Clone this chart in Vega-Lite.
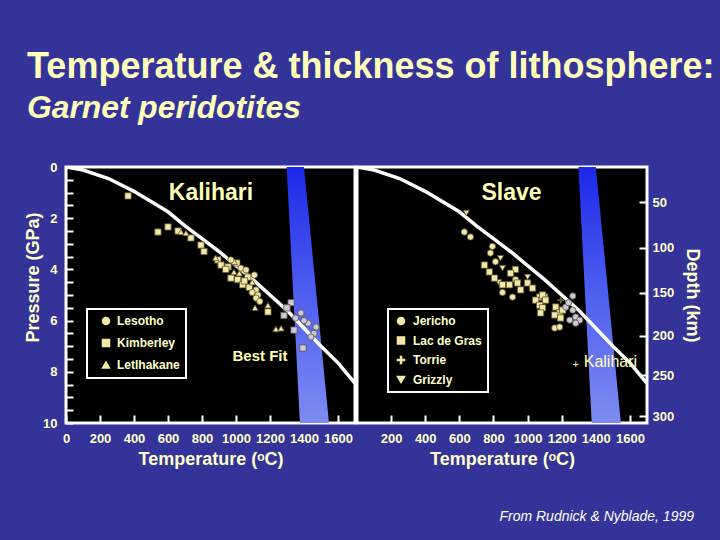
{
  "$schema": "https://vega.github.io/schema/vega-lite/v6.json",
  "background": "#333399",
  "padding": {"left": 23, "top": 48, "right": 20, "bottom": 15},
  "title": {
    "text": "Temperature & thickness of lithosphere:",
    "subtitle": "Garnet peridotites",
    "anchor": "start",
    "frame": "bounds",
    "dx": 4,
    "limit": 0,
    "font": "Liberation Sans",
    "fontSize": 36,
    "fontWeight": "bold",
    "color": "#ffffbb",
    "subtitleFont": "Liberation Sans",
    "subtitleFontSize": 31.8,
    "subtitleFontStyle": "italic",
    "subtitleFontWeight": "bold",
    "subtitleColor": "#ffffbb",
    "subtitlePadding": 7,
    "offset": 34
  },
  "config": {
    "font": "Liberation Sans",
    "view": {"fill": "black", "stroke": "white", "strokeWidth": 3},
    "axis": {
      "domain": false,
      "grid": false,
      "zindex": 1,
      "labelColor": "#ffffcc",
      "labelFont": "Liberation Sans",
      "labelFontWeight": "bold",
      "labelFontSize": 13,
      "titleColor": "#ffffcc",
      "titleFont": "Liberation Sans",
      "titleFontWeight": "bold",
      "titleFontSize": 18,
      "tickColor": "white",
      "tickWidth": 2,
      "labelFlush": false,
      "labelOverlap": false
    },
    "legend": {"strokeWidth": 2}
  },
  "datasets": {
    "geo": [
      {"T": 0, "P": 0}, {"T": 100, "P": 0.12}, {"T": 250, "P": 0.45}, {"T": 400, "P": 0.95},
      {"T": 500, "P": 1.35}, {"T": 600, "P": 1.75}, {"T": 700, "P": 2.3}, {"T": 800, "P": 2.8},
      {"T": 900, "P": 3.3}, {"T": 1000, "P": 3.85}, {"T": 1100, "P": 4.4}, {"T": 1200, "P": 5.0},
      {"T": 1300, "P": 5.6}, {"T": 1400, "P": 6.3}, {"T": 1500, "P": 7.0}, {"T": 1600, "P": 7.65},
      {"T": 1700, "P": 8.45}
    ],
    "band": [
      {"P": 0, "T": 1298, "T2": 1400},
      {"P": 10, "T": 1376, "T2": 1547}
    ],
    "kal": [
      {"loc": "Kimberley", "tone": "yellow", "T": 365, "P": 1.13},
      {"loc": "Kimberley", "tone": "yellow", "T": 541, "P": 2.54},
      {"loc": "Kimberley", "tone": "yellow", "T": 600, "P": 2.34},
      {"loc": "Kimberley", "tone": "yellow", "T": 659, "P": 2.5},
      {"loc": "Kimberley", "tone": "yellow", "T": 735, "P": 2.77},
      {"loc": "Kimberley", "tone": "yellow", "T": 794, "P": 3.05},
      {"loc": "Kimberley", "tone": "yellow", "T": 812, "P": 3.3},
      {"loc": "Kimberley", "tone": "yellow", "T": 893, "P": 3.63},
      {"loc": "Kimberley", "tone": "yellow", "T": 912, "P": 3.83},
      {"loc": "Kimberley", "tone": "yellow", "T": 953, "P": 3.9},
      {"loc": "Kimberley", "tone": "yellow", "T": 970, "P": 4.34},
      {"loc": "Kimberley", "tone": "yellow", "T": 1010, "P": 4.4},
      {"loc": "Kimberley", "tone": "yellow", "T": 1069, "P": 4.3},
      {"loc": "Kimberley", "tone": "yellow", "T": 1039, "P": 4.6},
      {"loc": "Kimberley", "tone": "yellow", "T": 1078, "P": 4.7},
      {"loc": "Kimberley", "tone": "yellow", "T": 1188, "P": 5.66},
      {"loc": "Kimberley", "tone": "yellow", "T": 1005, "P": 3.75},
      {"loc": "Kimberley", "tone": "yellow", "T": 1050, "P": 4.45},
      {"loc": "Kimberley", "tone": "yellow", "T": 940, "P": 4.0},
      {"loc": "Letlhakane", "tone": "yellow", "T": 676, "P": 2.54},
      {"loc": "Letlhakane", "tone": "yellow", "T": 706, "P": 2.58},
      {"loc": "Letlhakane", "tone": "yellow", "T": 990, "P": 3.7},
      {"loc": "Letlhakane", "tone": "yellow", "T": 988, "P": 4.1},
      {"loc": "Letlhakane", "tone": "yellow", "T": 1020, "P": 4.15},
      {"loc": "Letlhakane", "tone": "yellow", "T": 1112, "P": 5.5},
      {"loc": "Letlhakane", "tone": "yellow", "T": 1188, "P": 5.4},
      {"loc": "Letlhakane", "tone": "yellow", "T": 1235, "P": 6.33},
      {"loc": "Letlhakane", "tone": "yellow", "T": 1265, "P": 6.3},
      {"loc": "Letlhakane", "tone": "yellow", "T": 880, "P": 3.55},
      {"loc": "Letlhakane", "tone": "yellow", "T": 1095, "P": 4.5},
      {"loc": "Lesotho", "tone": "yellow", "T": 1108, "P": 4.22},
      {"loc": "Lesotho", "tone": "yellow", "T": 1118, "P": 4.8},
      {"loc": "Lesotho", "tone": "yellow", "T": 1129, "P": 5.0},
      {"loc": "Lesotho", "tone": "yellow", "T": 1118, "P": 5.12},
      {"loc": "Lesotho", "tone": "yellow", "T": 1029, "P": 3.95},
      {"loc": "Lesotho", "tone": "yellow", "T": 1059, "P": 4.02},
      {"loc": "Lesotho", "tone": "yellow", "T": 970, "P": 3.63},
      {"loc": "Lesotho", "tone": "yellow", "T": 1095, "P": 4.9},
      {"loc": "Lesotho", "tone": "yellow", "T": 1140, "P": 5.25},
      {"loc": "Kimberley", "tone": "gray", "T": 1324, "P": 5.3},
      {"loc": "Kimberley", "tone": "gray", "T": 1282, "P": 5.8},
      {"loc": "Kimberley", "tone": "gray", "T": 1341, "P": 6.37},
      {"loc": "Kimberley", "tone": "gray", "T": 1394, "P": 7.07},
      {"loc": "Kimberley", "tone": "gray", "T": 1300, "P": 5.5},
      {"loc": "Lesotho", "tone": "gray", "T": 1382, "P": 5.7},
      {"loc": "Lesotho", "tone": "gray", "T": 1424, "P": 6.1},
      {"loc": "Lesotho", "tone": "gray", "T": 1459, "P": 6.5},
      {"loc": "Lesotho", "tone": "gray", "T": 1441, "P": 6.64},
      {"loc": "Lesotho", "tone": "gray", "T": 1471, "P": 6.25},
      {"loc": "Lesotho", "tone": "gray", "T": 1350, "P": 5.9},
      {"loc": "Lesotho", "tone": "gray", "T": 1400, "P": 6.0}
    ],
    "sla": [
      {"loc": "Grizzly", "tone": "yellow", "T": 641, "P": 1.8},
      {"loc": "Grizzly", "tone": "yellow", "T": 841, "P": 3.56},
      {"loc": "Grizzly", "tone": "yellow", "T": 853, "P": 3.95},
      {"loc": "Grizzly", "tone": "yellow", "T": 830, "P": 4.5},
      {"loc": "Grizzly", "tone": "yellow", "T": 1000, "P": 4.3},
      {"loc": "Jericho", "tone": "yellow", "T": 629, "P": 2.54},
      {"loc": "Jericho", "tone": "yellow", "T": 665, "P": 2.73},
      {"loc": "Jericho", "tone": "yellow", "T": 794, "P": 3.1},
      {"loc": "Jericho", "tone": "yellow", "T": 782, "P": 3.36},
      {"loc": "Jericho", "tone": "yellow", "T": 812, "P": 3.7},
      {"loc": "Jericho", "tone": "yellow", "T": 912, "P": 5.08},
      {"loc": "Jericho", "tone": "yellow", "T": 853, "P": 4.9},
      {"loc": "Jericho", "tone": "yellow", "T": 930, "P": 4.4},
      {"loc": "Jericho", "tone": "yellow", "T": 1159, "P": 6.29},
      {"loc": "Jericho", "tone": "yellow", "T": 1188, "P": 6.25},
      {"loc": "Lac de Gras", "tone": "yellow", "T": 747, "P": 3.83},
      {"loc": "Lac de Gras", "tone": "yellow", "T": 776, "P": 4.1},
      {"loc": "Lac de Gras", "tone": "yellow", "T": 929, "P": 4.0},
      {"loc": "Lac de Gras", "tone": "yellow", "T": 806, "P": 4.34},
      {"loc": "Lac de Gras", "tone": "yellow", "T": 853, "P": 4.6},
      {"loc": "Lac de Gras", "tone": "yellow", "T": 894, "P": 4.6},
      {"loc": "Lac de Gras", "tone": "yellow", "T": 941, "P": 4.53},
      {"loc": "Lac de Gras", "tone": "yellow", "T": 959, "P": 4.8},
      {"loc": "Lac de Gras", "tone": "yellow", "T": 1000, "P": 4.53},
      {"loc": "Lac de Gras", "tone": "yellow", "T": 1029, "P": 4.73},
      {"loc": "Lac de Gras", "tone": "yellow", "T": 1071, "P": 5.08},
      {"loc": "Lac de Gras", "tone": "yellow", "T": 1100, "P": 5.08},
      {"loc": "Lac de Gras", "tone": "yellow", "T": 1047, "P": 5.2},
      {"loc": "Lac de Gras", "tone": "yellow", "T": 1088, "P": 5.0},
      {"loc": "Lac de Gras", "tone": "yellow", "T": 1106, "P": 5.2},
      {"loc": "Lac de Gras", "tone": "yellow", "T": 1071, "P": 5.4},
      {"loc": "Lac de Gras", "tone": "yellow", "T": 1088, "P": 5.5},
      {"loc": "Lac de Gras", "tone": "yellow", "T": 1076, "P": 5.7},
      {"loc": "Lac de Gras", "tone": "yellow", "T": 1165, "P": 5.47},
      {"loc": "Lac de Gras", "tone": "yellow", "T": 1188, "P": 5.7},
      {"loc": "Lac de Gras", "tone": "yellow", "T": 1206, "P": 5.59},
      {"loc": "Lac de Gras", "tone": "yellow", "T": 1159, "P": 5.78},
      {"loc": "Lac de Gras", "tone": "yellow", "T": 1194, "P": 5.9},
      {"loc": "Lac de Gras", "tone": "yellow", "T": 900, "P": 4.15},
      {"loc": "Torrie", "tone": "yellow", "T": 1194, "P": 5.2},
      {"loc": "Jericho", "tone": "gray", "T": 1265, "P": 5.04},
      {"loc": "Jericho", "tone": "gray", "T": 1224, "P": 5.47},
      {"loc": "Jericho", "tone": "gray", "T": 1265, "P": 5.59},
      {"loc": "Jericho", "tone": "gray", "T": 1282, "P": 5.86},
      {"loc": "Jericho", "tone": "gray", "T": 1306, "P": 5.98},
      {"loc": "Jericho", "tone": "gray", "T": 1247, "P": 5.98},
      {"loc": "Jericho", "tone": "gray", "T": 1282, "P": 6.1},
      {"loc": "Jericho", "tone": "gray", "T": 1240, "P": 5.3}
    ]
  },
  "spacing": -3,
  "resolve": {"scale": {"x": "independent", "y": "independent", "shape": "independent", "color": "independent"}},
  "hconcat": [
    {
      "width": 289,
      "height": 256,
      "encoding": {
        "x": {"field": "T", "type": "quantitative", "scale": {"domain": [0, 1700], "nice": false},
          "axis": {"values": [0, 200, 400, 600, 800, 1000, 1200, 1400, 1600], "format": "d", "labelOverlap": false,
            "title": "Temperature (ᵒC)", "offset": -8, "tickSize": 8, "labelPadding": 9, "titlePadding": 5}},
        "y": {"field": "P", "type": "quantitative", "scale": {"domain": [0, 10], "reverse": true, "nice": false},
          "axis": {"values": [0, 0.5, 1, 1.5, 2, 2.5, 3, 3.5, 4, 4.5, 5, 5.5, 6, 6.5, 7, 7.5, 8, 8.5, 9, 9.5, 10],
            "labelExpr": "datum.value % 2 === 0 ? format(datum.value, 'd') : ''", "labelOverlap": false,
            "title": "Pressure (GPa)", "titleY": 110, "titlePadding": 0,
            "offset": -7, "tickSize": 7, "labelPadding": 9}}
      },
      "layer": [
        {
          "data": {"name": "band"},
          "mark": {"type": "area", "orient": "horizontal", "clip": true,
            "color": {"gradient": "linear", "x1": 0, "y1": 0, "x2": 0, "y2": 1,
              "stops": [{"offset": 0, "color": "#1c28e8"}, {"offset": 0.5, "color": "#4f5ff0"}, {"offset": 1, "color": "#7f8cf2"}]}},
          "encoding": {"x2": {"field": "T2"}}
        },
        {
          "data": {"name": "geo"},
          "mark": {"type": "line", "color": "white", "strokeWidth": 3.5, "clip": true},
          "encoding": {}
        },
        {
          "data": {"name": "kal"},
          "mark": {"type": "point", "filled": true, "size": 40, "opacity": 1, "stroke": "#5a5230", "strokeWidth": 0.8, "clip": true},
          "encoding": {
            "color": {"field": "tone", "type": "nominal", "scale": {"domain": ["yellow", "gray"], "range": ["#f4e8a6", "#c9c8e0"]}, "legend": null},
            "shape": {"field": "loc", "type": "nominal",
              "scale": {"domain": ["Lesotho", "Kimberley", "Letlhakane"], "range": ["circle", "square", "triangle-up"]},
              "legend": {"orient": "none", "legendX": 21, "legendY": 142, "title": null,
                "strokeColor": "white", "fillColor": "black", "padding": 6,
                "labelColor": "#ffffcc", "labelFontSize": 12, "labelFontWeight": "bold", "labelFont": "Liberation Sans",
                "symbolFillColor": "#f4e8a6", "symbolStrokeColor": "#f4e8a6", "symbolSize": 50,
                "symbolOffset": 7, "labelOffset": 5, "rowPadding": 8}}
          }
        },
        {
          "data": {"values": [{"T": 853, "P": 1.0, "text": "Kalihari"}]},
          "mark": {"type": "text", "fontSize": 23, "fontWeight": "bold", "color": "#ffffb3", "align": "center", "baseline": "middle"},
          "encoding": {"text": {"field": "text"}}
        },
        {
          "data": {"values": [{"T": 1141, "P": 7.4, "text": "Best Fit"}]},
          "mark": {"type": "text", "fontSize": 15, "fontWeight": "bold", "color": "#ffffb3", "align": "center", "baseline": "middle"},
          "encoding": {"text": {"field": "text"}}
        }
      ]
    },
    {
      "width": 290,
      "height": 256,
      "title": {"text": "From Rudnick & Nyblade, 1999", "orient": "bottom", "anchor": "end", "frame": "group",
        "fontSize": 14, "fontStyle": "italic", "fontWeight": "normal", "color": "white", "font": "Liberation Sans", "offset": 42, "dx": 47},
      "encoding": {
        "x": {"field": "T", "type": "quantitative", "scale": {"domain": [0, 1700], "nice": false},
          "axis": {"values": [200, 400, 600, 800, 1000, 1200, 1400, 1600], "format": "d", "labelOverlap": false,
            "title": "Temperature (ᵒC)", "offset": -8, "tickSize": 8, "labelPadding": 9, "titlePadding": 5}},
        "y": {"field": "P", "type": "quantitative", "scale": {"domain": [0, 10], "reverse": true, "nice": false},
          "axis": {"orient": "right", "values": [1.37, 3.16, 4.92, 6.6, 8.13, 9.73], "labelOverlap": false,
            "labelExpr": "datum.value < 2 ? '50' : datum.value < 4 ? '100' : datum.value < 5.5 ? '150' : datum.value < 7 ? '200' : datum.value < 9 ? '250' : '300'",
            "title": "Depth (km)", "titlePadding": 9, "offset": -8, "tickSize": 8, "labelPadding": 5}}
      },
      "layer": [
        {
          "data": {"name": "band"},
          "mark": {"type": "area", "orient": "horizontal", "clip": true,
            "color": {"gradient": "linear", "x1": 0, "y1": 0, "x2": 0, "y2": 1,
              "stops": [{"offset": 0, "color": "#1c28e8"}, {"offset": 0.5, "color": "#4f5ff0"}, {"offset": 1, "color": "#7f8cf2"}]}},
          "encoding": {"x2": {"field": "T2"}}
        },
        {
          "data": {"name": "geo"},
          "mark": {"type": "line", "color": "white", "strokeWidth": 3.5, "clip": true},
          "encoding": {}
        },
        {
          "data": {"name": "sla"},
          "mark": {"type": "point", "filled": true, "size": 40, "opacity": 1, "stroke": "#5a5230", "strokeWidth": 0.8, "clip": true},
          "encoding": {
            "color": {"field": "tone", "type": "nominal", "scale": {"domain": ["yellow", "gray"], "range": ["#f4e8a6", "#c9c8e0"]}, "legend": null},
            "shape": {"field": "loc", "type": "nominal",
              "scale": {"domain": ["Jericho", "Lac de Gras", "Torrie", "Grizzly"],
                "range": ["circle", "square", "M-1,-0.14L1,-0.14L1,0.14L-1,0.14ZM-0.14,-1L0.14,-1L0.14,1L-0.14,1Z", "triangle-down"]},
              "legend": {"orient": "none", "legendX": 31, "legendY": 142, "title": null,
                "strokeColor": "white", "fillColor": "black", "padding": 6,
                "labelColor": "#ffffcc", "labelFontSize": 12, "labelFontWeight": "bold", "labelFont": "Liberation Sans",
                "symbolFillColor": "#f4e8a6", "symbolStrokeColor": "#f4e8a6", "symbolSize": 50,
                "symbolOffset": 1, "labelOffset": 6, "rowPadding": 5.5}}
          }
        },
        {
          "data": {"values": [{"T": 906, "P": 1.0, "text": "Slave"}]},
          "mark": {"type": "text", "fontSize": 23, "fontWeight": "bold", "color": "#ffffb3", "align": "center", "baseline": "middle"},
          "encoding": {"text": {"field": "text"}}
        },
        {
          "data": {"values": [{"T": 1329, "P": 7.62, "text": "Kalihari"}]},
          "mark": {"type": "text", "fontSize": 16, "fontWeight": "normal", "color": "#ffffb3", "align": "left", "baseline": "middle"},
          "encoding": {"text": {"field": "text"}}
        },
        {
          "data": {"values": [{"T": 1282, "P": 7.75, "text": "+"}]},
          "mark": {"type": "text", "fontSize": 11, "fontWeight": "normal", "color": "#ffffb3", "align": "center", "baseline": "middle"},
          "encoding": {"text": {"field": "text"}}
        }
      ]
    }
  ]
}
